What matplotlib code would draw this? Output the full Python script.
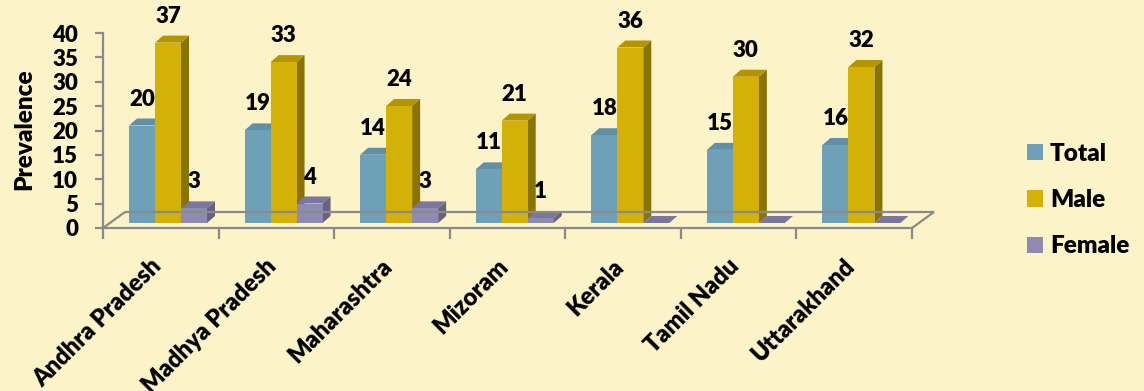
import matplotlib
matplotlib.use('Agg')
from matplotlib import pyplot as plt
from matplotlib.patches import Polygon, Patch

states = ['Andhra Pradesh', 'Madhya Pradesh', 'Maharashtra', 'Mizoram',
          'Kerala', 'Tamil Nadu', 'Uttarakhand']
total = [20, 19, 14, 11, 18, 15, 16]
male = [37, 33, 24, 21, 36, 30, 32]
female = [3, 4, 3, 1, 0, 0, 0]

series = [
    # name, values, front, top, side
    ('Total', total, '#6EA1B7', '#5F90A6', '#4F7A8E'),
    ('Male', male, '#D4B106', '#B39500', '#8A7300'),
    ('Female', female, '#8E8AB2', '#7A769C', '#66627F'),
]

plt.rcParams['font.family'] = ['Lato', 'DejaVu Sans']
plt.rcParams['font.weight'] = 'heavy'
FW = 'heavy'

bg = '#FCF3C8'
grid_col = '#8A8A8A'

fig = plt.figure(figsize=(11.44, 3.91), dpi=100, facecolor=bg)
W, H = 1144, 391
ax = fig.add_axes([103 / W, 163 / H, 809 / W, 195 / H])
ax.set_facecolor(bg)
ax.set_xlim(0, 7)
ax.set_ylim(0, 40)

# pixel -> data scale for the fake 3d depth
px_x = 7 / 809
px_y = 40 / 195

bar_w = 26 * px_x
start = 26 * px_x
dx, dy = 8 * px_x, 7 * px_y
base = 5 * px_y

# floor
fx, fy = 22 * px_x, 16 * px_y
floor_kw = dict(color=grid_col, lw=1.6, clip_on=False, solid_capstyle='butt')
ax.plot([fx, 7 + fx], [fy, fy], **floor_kw)
ax.plot([0, fx], [0, fy], **floor_kw)
ax.plot([7, 7 + fx], [0, fy], **floor_kw)

for i in range(len(states)):
    for k, (name, vals, c_front, c_top, c_side) in enumerate(series):
        v = vals[i]
        x0 = i + start + k * bar_w
        x1 = x0 + bar_w
        y0 = base
        y1 = base + v
        side = Polygon([(x1, y0), (x1 + dx, y0 + dy), (x1 + dx, y1 + dy), (x1, y1)],
                       closed=True, fc=c_side, ec='none', clip_on=False)
        top = Polygon([(x0, y1), (x0 + dx, y1 + dy), (x1 + dx, y1 + dy), (x1, y1)],
                      closed=True, fc=c_top, ec='none', clip_on=False)
        front = Polygon([(x0, y0), (x1, y0), (x1, y1), (x0, y1)],
                        closed=True, fc=c_front, ec='none', clip_on=False)
        ax.add_patch(side)
        ax.add_patch(top)
        ax.add_patch(front)
        if v > 0:
            ax.annotate(str(v), xy=((x0 + x1) / 2, y1), xytext=(0, 20),
                        textcoords='offset pixels', ha='center', va='baseline',
                        fontsize=16, fontweight=FW, annotation_clip=False)

# axes styling
for s in ['top', 'right']:
    ax.spines[s].set_visible(False)
for s in ['left', 'bottom']:
    ax.spines[s].set_color(grid_col)
    ax.spines[s].set_linewidth(1.6)

ax.set_yticks(range(0, 41, 5))
ax.tick_params(axis='y', direction='out', length=6, width=1.6, color=grid_col,
               labelsize=16, pad=12)
ax.set_xticks(range(0, 8))
ax.set_xticklabels([])
ax.tick_params(axis='x', direction='out', length=8, width=1.6, color=grid_col)

for i, name in enumerate(states):
    ax.text(i + 0.5 + 0.04, -27 / 195, name, transform=ax.get_xaxis_transform(),
            rotation=45, ha='right', va='top', fontsize=17, fontweight=FW)

ax.set_ylabel('Prevalence', fontsize=17.5, fontweight=FW)
ax.yaxis.set_label_coords(-68 / 809, (228 - 129) / 195)

handles = [Patch(fc=s[2], ec='none', label=s[0]) for s in series]
ax.legend(handles=handles, loc='center left', bbox_to_anchor=(1027 / W, 191 / H),
          bbox_transform=fig.transFigure, frameon=False,
          prop={'size': 17.5, 'weight': FW},
          handlelength=0.65, handleheight=0.65, handletextpad=0.3,
          labelspacing=1.0, borderpad=0, borderaxespad=0)

fig.savefig('out.png', dpi=100, facecolor=bg)
